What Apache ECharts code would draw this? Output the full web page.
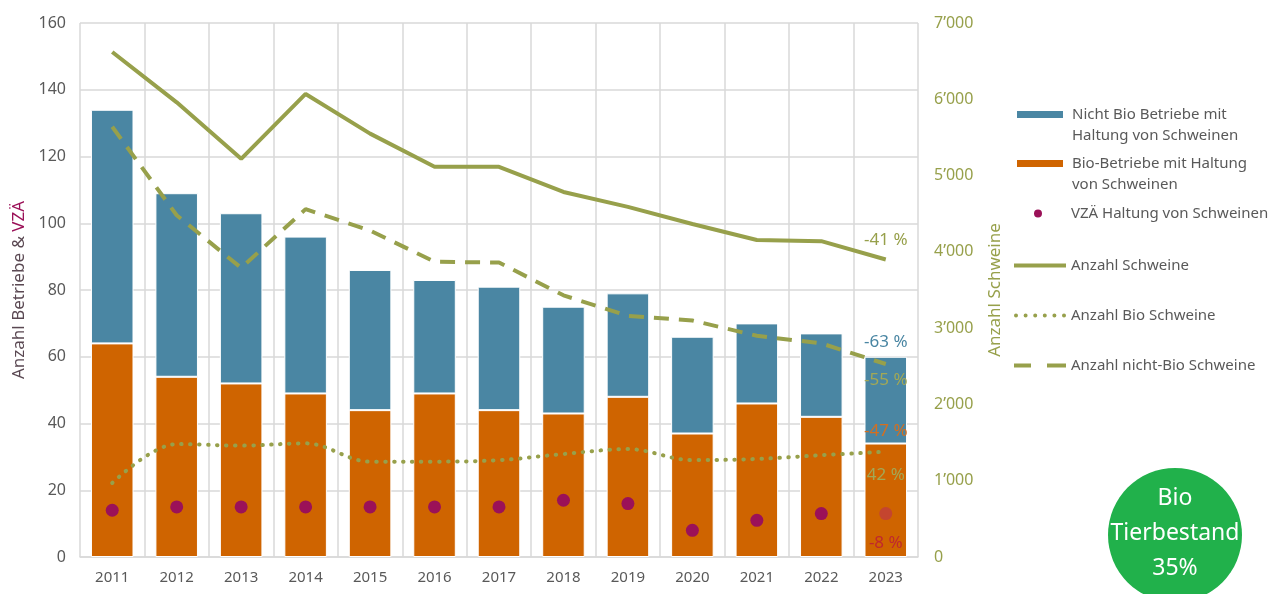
<!DOCTYPE html>
<html>
<head>
<meta charset="utf-8">
<script src="https://cdn.jsdelivr.net/npm/echarts@6/dist/echarts.min.js"></script>
<style>
  html, body { margin: 0; padding: 0; background: #fff; }
  #chart { width: 1273px; height: 594px; }
</style>
</head>
<body>
<div id="chart"></div>
<script>
// Daten
const years = ['2011', '2012', '2013', '2014', '2015', '2016', '2017', '2018', '2019', '2020', '2021', '2022', '2023'];
const bioBetriebe = [64, 54, 52, 49, 44, 49, 44, 43, 48, 37, 46, 42, 34];
const nichtBioBetriebe = [70, 55, 51, 47, 42, 34, 37, 32, 31, 29, 24, 25, 26];
const vzae = [14, 15, 15, 15, 15, 15, 15, 17, 16, 8, 11, 13, 13];
const schweine = [6620, 5960, 5220, 6070, 5550, 5115, 5115, 4785, 4590, 4365, 4155, 4140, 3900];
const bioSchweine = [970, 1480, 1460, 1490, 1250, 1250, 1270, 1350, 1415, 1270, 1285, 1335, 1380];
const nichtBioSchweine = [5640, 4480, 3790, 4560, 4280, 3870, 3860, 3430, 3160, 3100, 2900, 2800, 2530];
const leftTicks = [0, 20, 40, 60, 80, 100, 120, 140, 160];
const rightTicks = [0, 1000, 2000, 3000, 4000, 5000, 6000, 7000];
// Veränderung 2011-2023
const changeSchweine = '-41 %';
const changeNichtBioBetriebe = '-63 %';
const changeNichtBioSchweine = '-55 %';
const changeBioBetriebe = '-47 %';
const changeBioSchweine = '42 %';
const changeVzae = '-8 %';

const blue = '#4a86a3';
const orange = '#cf6400';
const olive = '#97a04b';
const magenta = '#9b1158';
const grey = '#595959';
const font = 'Noto Sans';

// Legendensymbole: Balken oben bündig, Linien 4px dick
const iconBar = 'path://M0,0h46v7h-46z M49.99,27.99h0.01v0.01h-0.01z';
const iconDot = 'path://M20,4a4,4 0 1,0 8,0a4,4 0 1,0 -8,0z M0,0h0.01v0.01h-0.01z M51.99,7.99h0.01v0.01h-0.01z';
const iconSolid = 'path://M0,0h52v4h-52z';
const iconDotted = 'path://M0,2a2,2 0 1,0 4,0a2,2 0 1,0 -4,0z M9.6,2a2,2 0 1,0 4,0a2,2 0 1,0 -4,0z M19.2,2a2,2 0 1,0 4,0a2,2 0 1,0 -4,0z M28.8,2a2,2 0 1,0 4,0a2,2 0 1,0 -4,0z M38.4,2a2,2 0 1,0 4,0a2,2 0 1,0 -4,0z M48,2a2,2 0 1,0 4,0a2,2 0 1,0 -4,0z';
const iconDashed = 'path://M0,0h17v4h-17z M33,0h19v4h-19z';

function lastLabel(values, text, color, position, offset, extra) {
  const last = values.length - 1;
  return values.map(function (v, i) {
    if (i !== last) return v;
    return Object.assign({
      value: v,
      label: {
        show: true, formatter: text, position: position, offset: offset,
        color: color, fontSize: 17, fontFamily: font
      }
    }, extra || {});
  });
}

function thousands(v) {
  const s = String(v);
  return s.length > 3 ? s.slice(0, -3) + '\u2019' + s.slice(-3) : s;
}

const legendText = { color: grey, fontSize: 15, lineHeight: 21, fontFamily: font };

let myChart = echarts.init(document.getElementById('chart'));
let option = {
  animation: false,
  textStyle: { fontFamily: font },
  grid: { left: 80, right: 355, top: 23, bottom: 37 },
  legend: [
    {
      left: 1017, top: 104, padding: 0, orient: 'vertical', itemWidth: 50, itemHeight: 28, itemGap: 7,
      itemStyle: { borderWidth: 0 },
      textStyle: legendText,
      data: [
        { name: 'Nicht Bio Betriebe mit\nHaltung von Schweinen', icon: iconBar },
        { name: 'Bio-Betriebe mit Haltung\nvon Schweinen', icon: iconBar }
      ]
    },
    {
      left: 1014, top: 203, padding: 0, orient: 'vertical', itemWidth: 52, itemHeight: 8,
      itemStyle: { borderWidth: 0 },
      textStyle: legendText,
      data: [{ name: 'VZÄ Haltung von Schweinen', icon: iconDot }]
    },
    {
      left: 1014, top: 255, padding: 0, orient: 'vertical', itemWidth: 52, itemHeight: 4, itemGap: 29,
      itemStyle: { borderWidth: 0 },
      textStyle: legendText,
      data: [
        { name: 'Anzahl Schweine', icon: iconSolid },
        { name: 'Anzahl Bio Schweine', icon: iconDotted },
        { name: 'Anzahl nicht-Bio Schweine', icon: iconDashed }
      ]
    }
  ],
  xAxis: {
    type: 'category',
    data: years,
    axisLine: { lineStyle: { color: '#d9d9d9', width: 1.5 } },
    axisTick: { show: false },
    axisLabel: { color: grey, fontSize: 15, margin: 13 },
    splitLine: { show: true, interval: 0, lineStyle: { color: '#d9d9d9', width: 1.5 } }
  },
  yAxis: [
    {
      type: 'value', min: 0, max: 160, interval: 20,
      name: '{a|Anzahl Betriebe & }{b|VZÄ}',
      nameLocation: 'middle', nameRotate: 90, nameGap: 50,
      nameTextStyle: {
        rich: {
          a: { color: '#5a4852', fontSize: 17, fontFamily: font },
          b: { color: magenta, fontSize: 17, fontFamily: font }
        }
      },
      axisLine: { show: false }, axisTick: { show: false },
      axisLabel: { color: grey, fontSize: 16, margin: 14,
        formatter: function (v) { return leftTicks.indexOf(v) >= 0 ? String(v) : ''; } },
      splitLine: { lineStyle: { color: '#d9d9d9', width: 1.5 } }
    },
    {
      type: 'value', min: 0, max: 7000, interval: 1000,
      name: 'Anzahl Schweine',
      nameLocation: 'middle', nameRotate: 90, nameGap: 69,
      nameTextStyle: { color: olive, fontSize: 17, fontFamily: font },
      axisLine: { show: false }, axisTick: { show: false },
      axisLabel: { color: olive, fontSize: 16, margin: 16,
        formatter: function (v) { return rightTicks.indexOf(v) >= 0 ? thousands(v) : ''; } },
      splitLine: { show: false }
    }
  ],
  series: [
    {
      name: 'Bio-Betriebe mit Haltung\nvon Schweinen',
      type: 'bar', stack: 'b', barCategoryGap: '34%',
      itemStyle: { color: orange, borderColor: '#fff', borderWidth: 1 },
      data: lastLabel(bioBetriebe, changeBioBetriebe, '#d46f20', 'top', [0, 1])
    },
    {
      name: 'Nicht Bio Betriebe mit\nHaltung von Schweinen',
      type: 'bar', stack: 'b',
      itemStyle: { color: blue, borderColor: '#fff', borderWidth: 1 },
      data: lastLabel(nichtBioBetriebe, changeNichtBioBetriebe, blue, 'top', [0, -1])
    },
    {
      name: 'Anzahl Schweine',
      type: 'line', yAxisIndex: 1, symbol: 'circle', symbolSize: 0, showSymbol: true, z: 5,
      lineStyle: { color: olive, width: 4 },
      itemStyle: { color: olive },
      data: lastLabel(schweine, changeSchweine, olive, 'top', [0, -6])
    },
    {
      name: 'Anzahl Bio Schweine',
      type: 'line', yAxisIndex: 1, symbol: 'circle', symbolSize: 0, showSymbol: true, smooth: 0.35, z: 5,
      lineStyle: { color: olive, width: 4, type: [0.5, 8.5], cap: 'round' },
      itemStyle: { color: olive },
      data: lastLabel(bioSchweine, changeBioSchweine, '#a2a856', 'bottom', [0, 10])
    },
    {
      name: 'Anzahl nicht-Bio Schweine',
      type: 'line', yAxisIndex: 1, symbol: 'circle', symbolSize: 0, showSymbol: true, z: 5,
      lineStyle: { color: olive, width: 4, type: [15, 10] },
      itemStyle: { color: olive },
      data: lastLabel(nichtBioSchweine, changeNichtBioSchweine, '#a2a856', 'bottom', [0, 3])
    },
    {
      name: 'VZÄ Haltung von Schweinen',
      type: 'scatter', symbolSize: 13, z: 6,
      itemStyle: { color: magenta, opacity: 1 },
      data: lastLabel(vzae, changeVzae, '#c0282d', 'bottom', [0, 10],
        { itemStyle: { color: '#c4452f' } })
    }
  ],
  graphic: [
    {
      type: 'circle', left: 1108, top: 468, z: 10,
      shape: { r: 67 },
      style: { fill: '#21b14b' }
    },
    {
      type: 'text', x: 1175, y: 481, z: 11,
      style: {
        text: 'Bio\nTierbestand\n35%', fill: '#fff', font: '23px "Noto Sans"',
        lineHeight: 35, align: 'center', verticalAlign: 'top'
      }
    }
  ]
};
myChart.setOption(option);
</script>
</body>
</html>
